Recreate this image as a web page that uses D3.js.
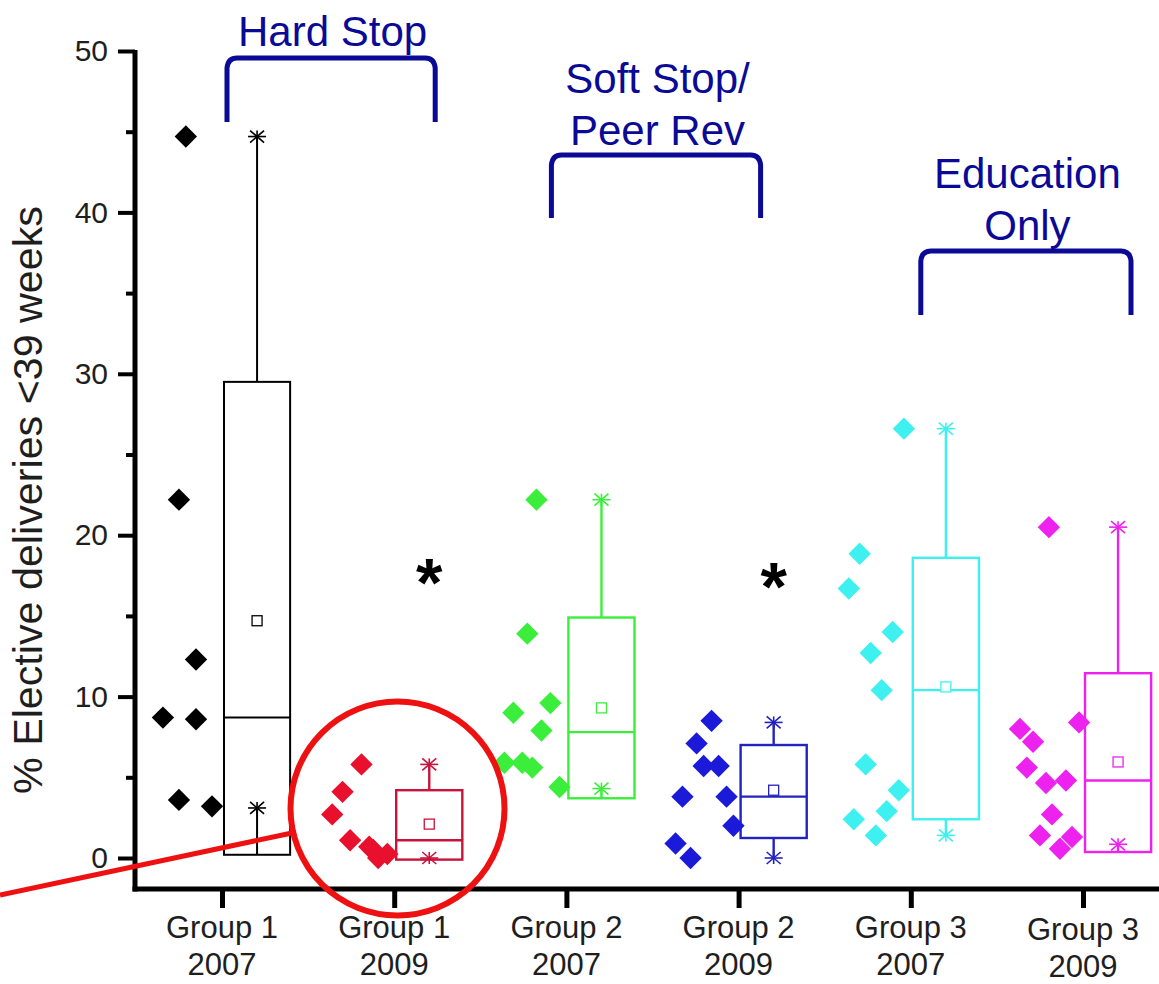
<!DOCTYPE html>
<html>
<head>
<meta charset="utf-8">
<script src="https://cdn.jsdelivr.net/npm/d3@7"></script>
<style>
  html, body { margin: 0; padding: 0; background: #fff; }
  svg { display: block; }
  text { font-family: "Liberation Sans", Arial, sans-serif; }
</style>
</head>
<body>
<svg id="chart" width="1159" height="984"></svg>
<script>
// ---------------- DATA ----------------
const categories = ["Group 1 2007", "Group 1 2009", "Group 2 2007", "Group 2 2009", "Group 3 2007", "Group 3 2009"];
const tickLine1 = ["Group 1", "Group 1", "Group 2", "Group 2", "Group 3", "Group 3"];
const tickLine2 = ["2007", "2009", "2007", "2009", "2007", "2009"];
const yTicks = [0, 10, 20, 30, 40, 50];
const yMinorTicks = [5, 15, 25, 35, 45];

// individual hospital values (%), with horizontal jitter (fraction of category step)
const g1_2007 = [44.7, 22.2, 12.3, 8.7, 8.6, 3.6, 3.2];
const g1_2007_jit = [-0.21, -0.25, -0.151, -0.343, -0.151, -0.25, -0.058];
const g1_2009 = [5.8, 4.1, 2.7, 1.1, 0.7, 0.5, 0.0, 0.25];
const g1_2009_jit = [-0.19, -0.30, -0.36, -0.256, -0.145, -0.122, -0.093, -0.04];
const g2_2007 = [22.2, 13.9, 9.6, 9.0, 7.9, 5.9, 5.9, 5.6, 4.4];
const g2_2007_jit = [-0.174, -0.227, -0.093, -0.308, -0.145, -0.36, -0.256, -0.198, -0.04];
const g2_2009 = [8.5, 7.1, 5.7, 5.7, 3.8, 3.8, 2.0, 0.9, 0.0];
const g2_2009_jit = [-0.157, -0.244, -0.203, -0.116, -0.326, -0.07, -0.03, -0.366, -0.279];
const g3_2007 = [26.6, 18.85, 16.7, 14.0, 12.7, 10.4, 5.8, 4.2, 2.9, 2.4, 1.4];
const g3_2007_jit = [-0.04, -0.297, -0.36, -0.105, -0.233, -0.169, -0.262, -0.07, -0.14, -0.331, -0.203];
const g3_2009 = [20.5, 8.0, 8.4, 7.2, 5.6, 4.65, 4.8, 2.7, 1.4, 1.3, 0.57];
const g3_2009_jit = [-0.198, -0.366, -0.023, -0.29, -0.326, -0.215, -0.099, -0.18, -0.25, -0.064, -0.134];

// box statistics per category
const q1 = [0.2, -0.1, 3.7, 1.24, 2.4, 0.37];
const median = [8.7, 1.1, 7.8, 3.8, 10.4, 4.8];
const q3 = [29.5, 4.2, 14.9, 7.0, 18.6, 11.45];
const mean = [14.7, 2.1, 9.3, 4.2, 10.6, 5.95];
const whiskerHigh = [44.7, 5.8, 22.2, 8.4, 26.6, 20.5];
const whiskerLow = [3.1, 0.0, 4.3, 0.0, 1.4, 0.85];

// significance markers
const sigCats = ["Group 1 2009", "Group 2 2009"];
const sigValues = [17.5, 17.2];

// group brackets
const bracketLabels = [["Hard Stop"], ["Soft Stop/", "Peer Rev"], ["Education", "Only"]];

// ---------------- STYLE / LAYOUT ----------------
const pointColors = ["#000000", "#e8102c", "#3cee3c", "#1a1ad8", "#3ef0f0", "#ee22ee"];
const boxColors   = ["#000000", "#c8143c", "#3cee3c", "#2222c0", "#3ef0f0", "#ee22ee"];
const navy = "#0a0a96";
const textColor = "#1e1e1e";

const svg = d3.select("#chart");
svg.append("rect").attr("width", 1159).attr("height", 984).attr("fill", "#fff");

const axisX = 135;      // y-axis line position
const axisY = 889;      // x-axis line position

const y = d3.scaleLinear().domain([0, 50]).range([858, 51]);
const x = d3.scalePoint().domain(categories).range([222, 1083]);
const step = x.step();

const series = [
  [g1_2007, g1_2007_jit], [g1_2009, g1_2009_jit],
  [g2_2007, g2_2007_jit], [g2_2009, g2_2009_jit],
  [g3_2007, g3_2007_jit], [g3_2009, g3_2009_jit]
];

// ---------------- AXES ----------------
const yAxis = d3.axisLeft(y).tickValues(yTicks).tickSize(17).tickSizeOuter(0).tickPadding(10);
const gy = svg.append("g").attr("transform", `translate(${axisX},0)`).call(yAxis);
gy.select(".domain").remove();
gy.selectAll(".tick line").attr("stroke", "#000").attr("stroke-width", 4);
gy.selectAll(".tick text").attr("font-size", 30).attr("fill", textColor)
  .attr("font-family", "Liberation Sans, Arial, sans-serif");
const yMinor = d3.axisLeft(y).tickValues(yMinorTicks).tickSize(9).tickFormat("");
const gym = svg.append("g").attr("transform", `translate(${axisX},0)`).call(yMinor);
gym.select(".domain").remove();
gym.selectAll(".tick line").attr("stroke", "#000").attr("stroke-width", 4);

svg.append("line").attr("x1", axisX).attr("x2", axisX)
  .attr("y1", y(50) - 1).attr("y2", axisY + 2.5)
  .attr("stroke", "#000").attr("stroke-width", 5);

const xAxis = d3.axisBottom(x).tickSize(19).tickSizeOuter(0).tickFormat("");
const gx = svg.append("g").attr("transform", `translate(0,${axisY})`).call(xAxis);
gx.select(".domain").remove();
gx.selectAll(".tick line").attr("stroke", "#000").attr("stroke-width", 5);
svg.append("line").attr("x1", axisX - 2.5).attr("x2", 1159)
  .attr("y1", axisY).attr("y2", axisY)
  .attr("stroke", "#000").attr("stroke-width", 5);

categories.forEach((c, i) => {
  const off = i === 5 ? 2 : 0;
  const t = svg.append("text").attr("x", x(c)).attr("text-anchor", "middle")
    .attr("font-size", 31).attr("fill", textColor);
  t.append("tspan").attr("x", x(c)).attr("y", 938 + off).text(tickLine1[i]);
  t.append("tspan").attr("x", x(c)).attr("y", 975 + off).text(tickLine2[i]);
});

// Y axis title
svg.append("text")
  .attr("transform", "translate(42,500) rotate(-90)")
  .attr("text-anchor", "middle")
  .attr("font-size", 40)
  .attr("fill", textColor)
  .attr("textLength", 588)
  .attr("lengthAdjust", "spacingAndGlyphs")
  .text("% Elective deliveries <39 weeks");

// ---------------- BOXES ----------------
const boxLeft = c => x(c) + 2;
const boxW = step * 0.384;
const boxMid = c => boxLeft(c) + boxW / 2;

function star(g, cx, cy, color) {
  const s = g.append("g").attr("transform", `translate(${cx},${cy})`)
    .attr("stroke", color).attr("stroke-width", 1.6).attr("fill", "none");
  s.append("line").attr("x1", -9).attr("x2", 9).attr("y1", 0).attr("y2", 0);
  s.append("line").attr("x1", -7).attr("x2", 7).attr("y1", -6).attr("y2", 6);
  s.append("line").attr("x1", -7).attr("x2", 7).attr("y1", 6).attr("y2", -6);
  s.append("line").attr("x1", 0).attr("x2", 0).attr("y1", -6).attr("y2", 6);
}

categories.forEach((c, i) => {
  const g = svg.append("g");
  const col = boxColors[i];
  const sw = i === 0 ? 2 : 2.4;
  const mx = boxMid(c);
  g.append("line").attr("x1", mx).attr("x2", mx).attr("y1", y(q3[i])).attr("y2", y(whiskerHigh[i]))
    .attr("stroke", col).attr("stroke-width", sw);
  g.append("line").attr("x1", mx).attr("x2", mx).attr("y1", y(q1[i])).attr("y2", y(whiskerLow[i]))
    .attr("stroke", col).attr("stroke-width", sw);
  g.append("rect").attr("x", boxLeft(c)).attr("width", boxW)
    .attr("y", y(q3[i])).attr("height", y(q1[i]) - y(q3[i]))
    .attr("fill", "none").attr("stroke", col).attr("stroke-width", sw);
  g.append("line").attr("x1", boxLeft(c)).attr("x2", boxLeft(c) + boxW)
    .attr("y1", y(median[i])).attr("y2", y(median[i]))
    .attr("stroke", col).attr("stroke-width", sw);
  g.append("rect").attr("x", mx - 5).attr("y", y(mean[i]) - 5).attr("width", 10).attr("height", 10)
    .attr("fill", "#fff").attr("stroke", col).attr("stroke-width", 1.3);
  star(g, mx, y(whiskerHigh[i]), col);
  star(g, mx, y(whiskerLow[i]), col);
});

// ---------------- POINTS ----------------
const diamond = d3.symbol().type(d3.symbolSquare).size(250);
series.forEach(([vals, jit], i) => {
  const c = categories[i];
  svg.append("g").selectAll("path").data(vals).join("path")
    .attr("d", diamond)
    .attr("transform", (v, k) => `translate(${x(c) + jit[k] * step},${y(v)}) rotate(45)`)
    .attr("fill", pointColors[i]);
});

// ---------------- SIGNIFICANCE ----------------
sigCats.forEach((c, i) => {
  svg.append("text").attr("x", boxMid(c)).attr("y", y(sigValues[i]) + 30)
    .attr("text-anchor", "middle").attr("font-size", 68).attr("font-weight", "bold")
    .attr("fill", "#000").text("*");
});

// ---------------- BRACKETS ----------------
const bracketGeom = [
  { x0: x(categories[0]) + 5,  x1: x(categories[1]) + 41, top: 58,  bottom: 122, base: [46] },
  { x0: x(categories[2]) - 15, x1: x(categories[3]) + 22, top: 155, bottom: 218, base: [93, 145] },
  { x0: x(categories[4]) + 10, x1: x(categories[5]) + 48, top: 251, bottom: 315, base: [188, 240] }
];
bracketGeom.forEach((b, i) => {
  const r = 10;
  const p = d3.path();
  p.moveTo(b.x0, b.bottom);
  p.lineTo(b.x0, b.top + r);
  p.quadraticCurveTo(b.x0 + 1, b.top, b.x0 + r, b.top);
  p.lineTo(b.x1 - r, b.top);
  p.quadraticCurveTo(b.x1 - 1, b.top, b.x1, b.top + r);
  p.lineTo(b.x1, b.bottom);
  svg.append("path").attr("d", p.toString()).attr("fill", "none")
    .attr("stroke", navy).attr("stroke-width", 5);
  const cx = (b.x0 + b.x1) / 2 + 1.5;
  bracketLabels[i].forEach((lab, k) => {
    svg.append("text").attr("x", cx).attr("y", b.base[k]).attr("text-anchor", "middle")
      .attr("font-size", 42).attr("fill", navy).text(lab);
  });
});

// ---------------- CALLOUT ----------------
svg.append("line").attr("x1", 0).attr("y1", 895).attr("x2", 292).attr("y2", 833)
  .attr("stroke", "#ee1111").attr("stroke-width", 5);
svg.append("circle").attr("cx", 397.5).attr("cy", 808.5).attr("r", 107)
  .attr("fill", "none").attr("stroke", "#ee1111").attr("stroke-width", 6);
</script>
</body>
</html>
